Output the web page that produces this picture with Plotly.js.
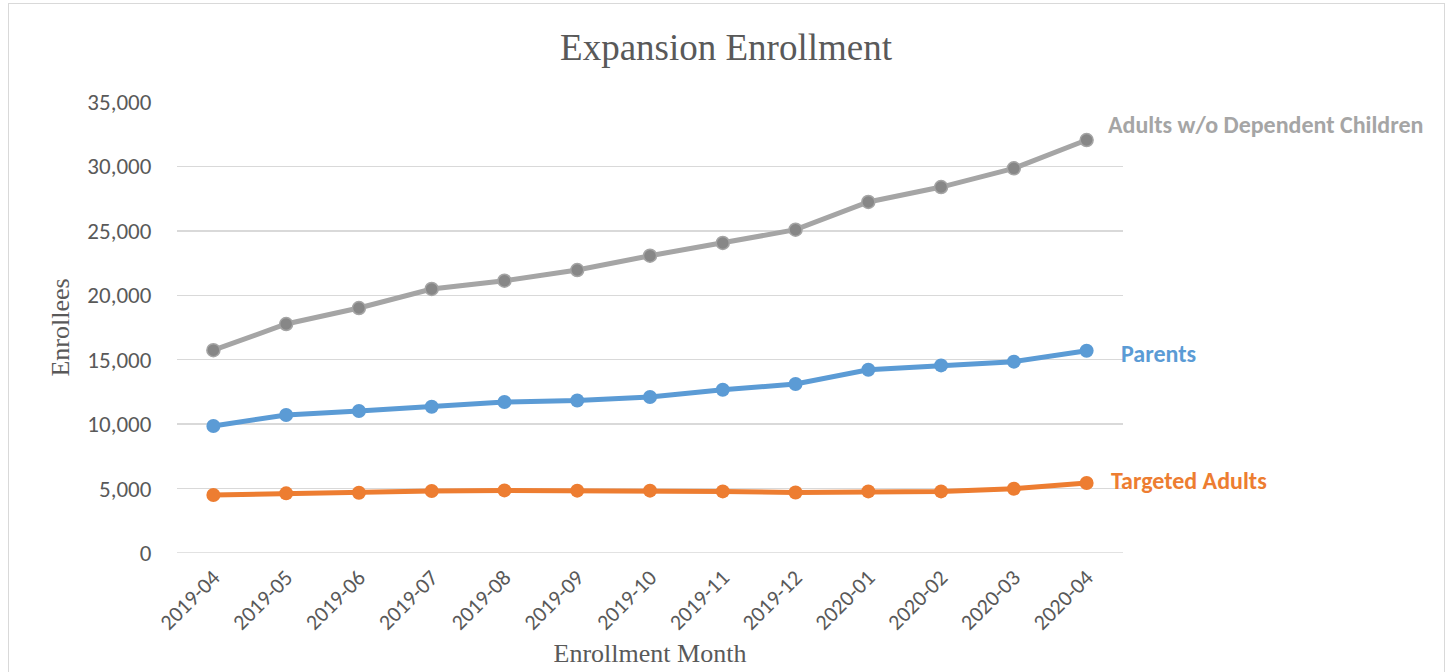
<!DOCTYPE html>
<html>
<head>
<meta charset="utf-8">
<script src="https://cdn.plot.ly/plotly-3.0.1.min.js"></script>
<style>
  html, body { margin: 0; padding: 0; background: #ffffff; }
  #frame { position: absolute; left: 8px; top: 3px; width: 1437px; height: 700px; border: 1.5px solid #d9d9d9; box-sizing: border-box; }
  #chart { position: absolute; left: 0; top: 0; width: 1452px; height: 672px; }
</style>
</head>
<body>
<div id="frame"></div>
<div id="chart"></div>
<script>
const months = ["2019-04","2019-05","2019-06","2019-07","2019-08","2019-09","2019-10","2019-11","2019-12","2020-01","2020-02","2020-03","2020-04"];
const adultsNoChildren = [15740, 17770, 19010, 20490, 21130, 21960, 23070, 24060, 25090, 27240, 28400, 29850, 32050];
const parents = [9860, 10710, 11020, 11350, 11720, 11840, 12110, 12670, 13110, 14220, 14560, 14850, 15700];
const targetedAdults = [4500, 4630, 4680, 4810, 4860, 4840, 4840, 4780, 4700, 4780, 4780, 4990, 5430];
const seriesNames = ["Adults w/o Dependent Children", "Parents", "Targeted Adults"];
const yTickVals = [0, 5000, 10000, 15000, 20000, 25000, 30000, 35000];
const yTickText = ["0", "5,000", "10,000", "15,000", "20,000", "25,000", "30,000", "35,000"];

const labelFont = "Carlito, Lato, 'Open Sans', sans-serif";
const serif = "'Liberation Serif', 'Times New Roman', serif";

const traces = [
  {
    x: months, y: adultsNoChildren, name: seriesNames[0], type: 'scatter', mode: 'lines+markers',
    line: { color: '#A5A5A5', width: 5 },
    marker: { color: '#878787', size: 13, line: { color: '#A5A5A5', width: 1.5 } }
  },
  {
    x: months, y: parents, name: seriesNames[1], type: 'scatter', mode: 'lines+markers',
    line: { color: '#5B9BD5', width: 5 },
    marker: { color: '#5B9BD5', size: 14 }
  },
  {
    x: months, y: targetedAdults, name: seriesNames[2], type: 'scatter', mode: 'lines+markers',
    line: { color: '#ED7D31', width: 5 },
    marker: { color: '#ED7D31', size: 14 }
  }
];

const last = months.length - 1;
const layout = {
  width: 1452, height: 672,
  paper_bgcolor: 'rgba(0,0,0,0)', plot_bgcolor: 'rgba(0,0,0,0)',
  margin: { l: 177, r: 329, t: 102, b: 119 },
  showlegend: false,
  title: {
    text: 'Expansion Enrollment',
    font: { family: serif, size: 37, color: '#595959' },
    x: 0.5, xanchor: 'center', y: 1 - 47 / 672, yanchor: 'middle', xref: 'container', yref: 'container'
  },
  xaxis: {
    type: 'category', range: [-0.5, 12.5],
    tickangle: -45,
    tickfont: { family: labelFont, size: 22, color: '#595959' },
    ticks: 'outside', ticklen: 2, tickcolor: 'rgba(0,0,0,0)',
    showgrid: false, showline: false, zeroline: false,
    title: { text: 'Enrollment Month', font: { family: serif, size: 26, color: '#595959' }, standoff: 9 }
  },
  yaxis: {
    range: [0, 35000],
    tickvals: yTickVals, ticktext: yTickText,
    tickfont: { family: labelFont, size: 23, color: '#595959' },
    ticks: 'outside', ticklen: 20, tickcolor: 'rgba(0,0,0,0)',
    showgrid: true, gridcolor: '#d9d9d9', gridwidth: 1.5,
    zeroline: false, showline: false,
    title: { text: 'Enrollees', font: { family: serif, size: 26, color: '#595959' }, standoff: 10 }
  },
  shapes: [
    { type: 'line', xref: 'paper', yref: 'y', x0: 0, x1: 1, y0: 0, y1: 0, line: { color: '#d9d9d9', width: 1.5 } }
  ],
  annotations: [
    { x: months[last], y: adultsNoChildren[last], xref: 'x', yref: 'y', text: '<b>' + seriesNames[0] + '</b>', showarrow: false,
      xanchor: 'left', yanchor: 'middle', xshift: 19, yshift: 16, font: { family: labelFont, size: 24, color: '#A5A5A5' } },
    { x: months[last], y: parents[last], xref: 'x', yref: 'y', text: '<b>' + seriesNames[1] + '</b>', showarrow: false,
      xanchor: 'left', yanchor: 'middle', xshift: 32, yshift: -3, font: { family: labelFont, size: 24, color: '#5B9BD5' } },
    { x: months[last], y: targetedAdults[last], xref: 'x', yref: 'y', text: '<b>' + seriesNames[2] + '</b>', showarrow: false,
      xanchor: 'left', yanchor: 'middle', xshift: 22, yshift: 3, font: { family: labelFont, size: 24, color: '#ED7D31' } }
  ]
};

Plotly.newPlot('chart', traces, layout, { displayModeBar: false, staticPlot: true });
</script>
</body>
</html>
